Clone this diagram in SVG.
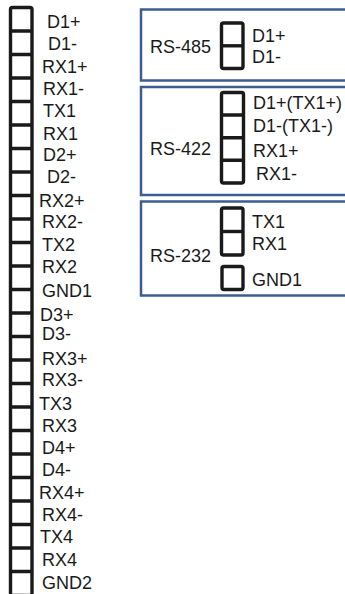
<svg xmlns="http://www.w3.org/2000/svg" width="345" height="594" viewBox="0 0 345 594">
<style>
.t{font-family:"Liberation Sans",Arial,sans-serif;font-size:18px;fill:#1a1a1a}
.blk{fill:#fff;stroke:#1a1a1a;stroke-width:3.4}
.div{stroke:#1a1a1a;stroke-width:3.4}
.box{fill:#fff;stroke:#3d5d90;stroke-width:2.5}
</style>
<rect width="345" height="594" fill="#fff"/>
<g id="terminal-strip">
<rect class="blk" x="10.5" y="7.5" width="21.5" height="588" rx="2"/>
<path class="div" d="M10.5 31H32M10.5 54.5H32M10.5 78H32M10.5 101.5H32M10.5 125H32M10.5 148.5H32M10.5 172H32M10.5 195.5H32M10.5 219H32M10.5 242.5H32M10.5 266H32M10.5 289.5H32M10.5 313H32M10.5 336.5H32M10.5 360H32M10.5 383.5H32M10.5 407H32M10.5 430.5H32M10.5 454H32M10.5 477.5H32M10.5 501H32M10.5 524.5H32M10.5 548H32M10.5 571.5H32"/>
<text class="t" x="47" y="28">D1+</text>
<text class="t" x="48" y="50">D1-</text>
<text class="t" x="42" y="73">RX1+</text>
<text class="t" x="43" y="95">RX1-</text>
<text class="t" x="43" y="117">TX1</text>
<text class="t" x="43" y="140">RX1</text>
<text class="t" x="43" y="161">D2+</text>
<text class="t" x="47" y="183">D2-</text>
<text class="t" x="39" y="207">RX2+</text>
<text class="t" x="42" y="228">RX2-</text>
<text class="t" x="42" y="251">TX2</text>
<text class="t" x="42" y="273">RX2</text>
<text class="t" x="42" y="297">GND1</text>
<text class="t" x="40" y="321">D3+</text>
<text class="t" x="42" y="340">D3-</text>
<text class="t" x="42" y="365">RX3+</text>
<text class="t" x="42" y="386">RX3-</text>
<text class="t" x="39" y="410">TX3</text>
<text class="t" x="42" y="432">RX3</text>
<text class="t" x="42" y="454">D4+</text>
<text class="t" x="42" y="476">D4-</text>
<text class="t" x="39" y="499">RX4+</text>
<text class="t" x="42" y="521">RX4-</text>
<text class="t" x="40" y="543">TX4</text>
<text class="t" x="42" y="566">RX4</text>
<text class="t" x="42" y="589">GND2</text>
</g>
<g id="rs485">
<rect class="box" x="141" y="9.5" width="210" height="71"/>
<text class="t" x="150" y="53">RS-485</text>
<rect class="blk" x="221.5" y="23" width="21.5" height="45.5" rx="2"/>
<path class="div" d="M221.5 45.8H243"/>
<text class="t" x="252" y="42">D1+</text>
<text class="t" x="252" y="63">D1-</text>
</g>
<g id="rs422">
<rect class="box" x="141" y="87" width="210" height="108"/>
<text class="t" x="150" y="155">RS-422</text>
<rect class="blk" x="221.5" y="92.5" width="22" height="90.5" rx="2"/>
<path class="div" d="M221.5 115H243.5M221.5 137.7H243.5M221.5 160.3H243.5"/>
<text class="t" x="253" y="109">D1+(TX1+)</text>
<text class="t" x="253" y="132">D1-(TX1-)</text>
<text class="t" x="253" y="157">RX1+</text>
<text class="t" x="256" y="180">RX1-</text>
</g>
<g id="rs232">
<rect class="box" x="141" y="201.5" width="210" height="94"/>
<text class="t" x="150" y="262">RS-232</text>
<rect class="blk" x="221.5" y="208" width="21.5" height="47" rx="2"/>
<path class="div" d="M221.5 231.5H243"/>
<rect class="blk" x="222" y="266.5" width="21" height="23" rx="2"/>
<text class="t" x="252" y="228">TX1</text>
<text class="t" x="252" y="250">RX1</text>
<text class="t" x="252" y="286">GND1</text>
</g>
<g id="connectors"/>
</svg>
